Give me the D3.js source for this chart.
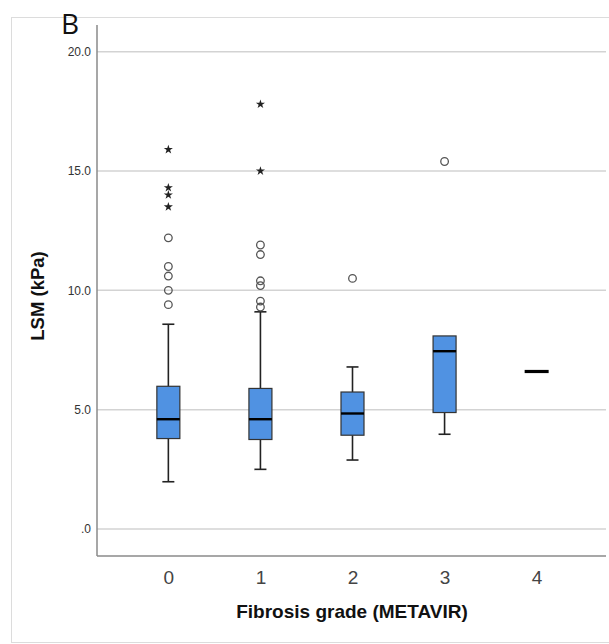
<!DOCTYPE html>
<html>
<head>
<meta charset="utf-8">
<script src="https://cdn.jsdelivr.net/npm/d3@7"></script>
<style>
html,body{margin:0;padding:0;background:#fff;}
svg{display:block;}
</style>
</head>
<body>
<svg id="chart" width="609" height="644"></svg>
<script>
// ---- data ----
const categories = ["0", "1", "2", "3", "4"];
const whiskerLow = [1.98, 2.50, 2.89, 3.97, 6.6];
const q1 = [3.79, 3.75, 3.93, 4.88, 6.6];
const medians = [4.60, 4.60, 4.84, 7.45, 6.6];
const q3 = [5.98, 5.89, 5.74, 8.09, 6.6];
const whiskerHigh = [8.58, 9.1, 6.79, 8.09, 6.6];
const outliersCircle = [
  [12.2, 11.0, 10.6, 10.0, 9.4],
  [11.9, 11.5, 10.4, 10.2, 9.55, 9.3],
  [10.5],
  [15.4],
  []
];
const outliersStar = [
  [15.9, 14.3, 14.0, 13.5],
  [17.8, 15.0],
  [],
  [],
  []
];
const yTicks = [0, 5, 10, 15, 20];
const yTickLabels = [".0", "5.0", "10.0", "15.0", "20.0"];
const yTitle = "LSM (kPa)";
const xTitle = "Fibrosis grade (METAVIR)";
const panelLabel = "B";

// ---- layout ----
const svg = d3.select("#chart");
const axisX = 97, plotRight = 606, plotTop = 25, plotBottom = 556;

const y = d3.scaleLinear().domain([0, 20]).range([529, 51.7]);
const x = d3.scalePoint().domain(categories).range([97, 608]).padding(0.775);

// outer frame
svg.append("rect").attr("x", 11.5).attr("y", 17.5).attr("width", 610).attr("height", 625)
  .attr("fill", "none").attr("stroke", "#dcdcdc").attr("stroke-width", 1);

// panel label
svg.append("text").attr("x", 70).attr("y", 34).attr("text-anchor", "middle")
  .attr("font-family", "'Open Sans', 'Liberation Sans', sans-serif").attr("font-size", 28)
  .attr("fill", "#111").text(panelLabel);

// gridlines
svg.append("g").selectAll("line").data(yTicks).join("line")
  .attr("x1", axisX).attr("x2", plotRight)
  .attr("y1", d => y(d)).attr("y2", d => y(d))
  .attr("stroke", "#d3d3d3").attr("stroke-width", 1.5);

// y axis using d3 axis
const yAxis = d3.axisLeft(y).tickValues(yTicks).tickSize(0).tickPadding(6)
  .tickFormat((d, i) => yTickLabels[i]);
const gy = svg.append("g").attr("transform", `translate(${axisX},0)`).call(yAxis);
gy.select(".domain").remove();
gy.selectAll("text").attr("font-family", "'Liberation Sans', Arial, sans-serif")
  .attr("font-size", 12).attr("fill", "#333");

// axis lines
svg.append("line").attr("x1", axisX).attr("x2", axisX).attr("y1", plotTop).attr("y2", plotBottom)
  .attr("stroke", "#8a8a8a").attr("stroke-width", 1.5);
svg.append("line").attr("x1", axisX).attr("x2", plotRight).attr("y1", plotBottom).attr("y2", plotBottom)
  .attr("stroke", "#8a8a8a").attr("stroke-width", 1.5);

// x axis labels
const xAxis = d3.axisBottom(x).tickSize(0).tickPadding(15);
const gx = svg.append("g").attr("transform", `translate(0,${plotBottom})`).call(xAxis);
gx.select(".domain").remove();
gx.selectAll("text").attr("font-family", "'Liberation Sans', Arial, sans-serif")
  .attr("font-size", 19).attr("fill", "#444");

// titles
svg.append("text").attr("transform", "translate(44,296) rotate(-90)")
  .attr("text-anchor", "middle").attr("font-family", "'Liberation Sans', Arial, sans-serif")
  .attr("font-weight", "bold").attr("font-size", 18.5).attr("fill", "#111").text(yTitle);
svg.append("text").attr("x", 352).attr("y", 618).attr("text-anchor", "middle")
  .attr("font-family", "'Liberation Sans', Arial, sans-serif")
  .attr("font-weight", "bold").attr("font-size", 19).attr("fill", "#111").text(xTitle);

// boxes
const boxW = 23, capW = 12;
const data = categories.map((c, i) => ({
  c, lo: whiskerLow[i], q1: q1[i], med: medians[i], q3: q3[i], hi: whiskerHigh[i],
  circ: outliersCircle[i], star: outliersStar[i]
}));

const g = svg.append("g");
data.forEach(d => {
  const cx = x(d.c);
  if (d.q3 > d.q1) {
    g.append("line").attr("x1", cx).attr("x2", cx).attr("y1", y(d.q3)).attr("y2", y(d.hi))
      .attr("stroke", "#222").attr("stroke-width", 1.6);
    g.append("line").attr("x1", cx).attr("x2", cx).attr("y1", y(d.q1)).attr("y2", y(d.lo))
      .attr("stroke", "#222").attr("stroke-width", 1.6);
    if (d.hi > d.q3) g.append("line").attr("x1", cx - capW / 2).attr("x2", cx + capW / 2)
      .attr("y1", y(d.hi)).attr("y2", y(d.hi)).attr("stroke", "#222").attr("stroke-width", 1.6);
    if (d.lo < d.q1) g.append("line").attr("x1", cx - capW / 2).attr("x2", cx + capW / 2)
      .attr("y1", y(d.lo)).attr("y2", y(d.lo)).attr("stroke", "#222").attr("stroke-width", 1.6);
    g.append("rect").attr("x", cx - boxW / 2).attr("y", y(d.q3)).attr("width", boxW)
      .attr("height", y(d.q1) - y(d.q3)).attr("fill", "#5092e2")
      .attr("stroke", "#333").attr("stroke-width", 1.2);
  }
  g.append("line").attr("x1", cx - boxW / 2 - (d.q3 > d.q1 ? 0 : 0.5)).attr("x2", cx + boxW / 2 + (d.q3 > d.q1 ? 0 : 0.5))
    .attr("y1", y(d.med)).attr("y2", y(d.med)).attr("stroke", "#000")
    .attr("stroke-width", d.q3 > d.q1 ? 2.4 : 3.2);
  d.circ.forEach(v => {
    g.append("circle").attr("cx", cx).attr("cy", y(v)).attr("r", 3.8)
      .attr("fill", "none").attr("stroke", "#555").attr("stroke-width", 1.3);
  });
  d.star.forEach(v => {
    g.append("path").attr("d", d3.symbol(d3.symbolStar, 26)())
      .attr("transform", `translate(${cx},${y(v)})`).attr("fill", "#222");
  });
});
</script>
</body>
</html>
